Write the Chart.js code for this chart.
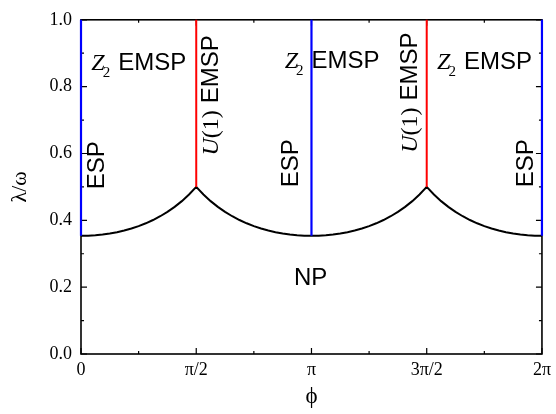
<!DOCTYPE html>
<html>
<head>
<meta charset="utf-8">
<script src="https://cdn.jsdelivr.net/npm/chart.js@4.4.1/dist/chart.umd.min.js"></script>
<style>
  html, body { margin: 0; padding: 0; background: #fff; }
  canvas { display: block; }
</style>
</head>
<body>
<canvas id="phaseChart" width="556" height="414"></canvas>
<script>
// phase angle phi, in units of pi
const phi = [
  0, 0.03125, 0.0625, 0.09375, 0.125, 0.15625, 0.1875, 0.21875,
  0.25, 0.28125, 0.3125, 0.34375, 0.375, 0.40625, 0.4375, 0.46875,
  0.5, 0.53125, 0.5625, 0.59375, 0.625, 0.65625, 0.6875, 0.71875,
  0.75, 0.78125, 0.8125, 0.84375, 0.875, 0.90625, 0.9375, 0.96875,
  1, 1.03125, 1.0625, 1.09375, 1.125, 1.15625, 1.1875, 1.21875,
  1.25, 1.28125, 1.3125, 1.34375, 1.375, 1.40625, 1.4375, 1.46875,
  1.5, 1.53125, 1.5625, 1.59375, 1.625, 1.65625, 1.6875, 1.71875,
  1.75, 1.78125, 1.8125, 1.84375, 1.875, 1.90625, 1.9375, 1.96875,
  2
];
// critical lambda/omega separating NP from the superradiant phases
const lambdaCrit = [
  0.3536, 0.3540, 0.3553, 0.3574, 0.3605, 0.3645, 0.3695, 0.3755,
  0.3827, 0.3911, 0.4009, 0.4122, 0.4252, 0.4402, 0.4574, 0.4772,
  0.5000, 0.4772, 0.4574, 0.4402, 0.4252, 0.4122, 0.4009, 0.3911,
  0.3827, 0.3755, 0.3695, 0.3645, 0.3605, 0.3574, 0.3553, 0.3540,
  0.3536, 0.3540, 0.3553, 0.3574, 0.3605, 0.3645, 0.3695, 0.3755,
  0.3827, 0.3911, 0.4009, 0.4122, 0.4252, 0.4402, 0.4574, 0.4772,
  0.5000, 0.4772, 0.4574, 0.4402, 0.4252, 0.4122, 0.4009, 0.3911,
  0.3827, 0.3755, 0.3695, 0.3645, 0.3605, 0.3574, 0.3553, 0.3540,
  0.3536
];
// ESP lines (blue) and U(1) EMSP lines (red): phi and lower end
const espPhi = [0, 1, 2];
const espLambda = [0.3536, 0.3536, 0.3536];
const u1Phi = [0.5, 1.5];
const u1Lambda = [0.5, 0.5];
const lambdaTop = 1.0;

const xTicks = [0, 0.25, 0.5, 0.75, 1, 1.25, 1.5, 1.75, 2];
const xTickLabels = ['0', '', 'π/2', '', 'π', '', '3π/2', '', '2π'];
const yTicks = [0, 0.1, 0.2, 0.3, 0.4, 0.5, 0.6, 0.7, 0.8, 0.9, 1.0];
const yTickLabels = ['0.0', '', '0.2', '', '0.4', '', '0.6', '', '0.8', '', '1.0'];

const SERIF = '"Liberation Serif", "Times New Roman", serif';
const SANS = '"Liberation Sans", Arial, sans-serif';

function verticalSegments(xs, lows) {
  const pts = [];
  xs.forEach((x, i) => {
    pts.push({ x: x, y: lows[i] });
    pts.push({ x: x, y: lambdaTop });
    pts.push({ x: x, y: null });
  });
  return pts;
}

// frame plus inward major/minor ticks on all four sides
const frameTicks = {
  id: 'frameTicks',
  beforeDatasetsDraw(chart) {
    const { ctx, chartArea: a, scales: { x, y } } = chart;
    ctx.save();
    ctx.strokeStyle = '#000';
    ctx.lineWidth = 1.6;
    ctx.strokeRect(a.left, a.top, a.right - a.left, a.bottom - a.top);
    ctx.lineWidth = 1.2;
    ctx.beginPath();
    xTicks.forEach((v, i) => {
      const px = x.getPixelForValue(v);
      const len = xTickLabels[i] ? 6 : 3;
      ctx.moveTo(px, a.bottom); ctx.lineTo(px, a.bottom - len);
      ctx.moveTo(px, a.top); ctx.lineTo(px, a.top + len);
    });
    yTicks.forEach((v, i) => {
      const py = y.getPixelForValue(v);
      const len = yTickLabels[i] ? 6 : 3;
      ctx.moveTo(a.left, py); ctx.lineTo(a.left + len, py);
      ctx.moveTo(a.right, py); ctx.lineTo(a.right - len, py);
    });
    ctx.stroke();
    ctx.restore();
  }
};

// draw a run of differently styled text pieces along one baseline
function drawPieces(ctx, pieces, x0, baseline) {
  let cx = x0;
  pieces.forEach(p => {
    ctx.font = p.font;
    ctx.fillText(p.text, cx + (p.dx || 0), baseline + (p.dy || 0));
    cx += ctx.measureText(p.text).width + (p.dx || 0) + (p.gap || 0);
  });
  return cx - x0;
}

function measurePieces(ctx, pieces) {
  let w = 0;
  pieces.forEach(p => {
    ctx.font = p.font;
    w += ctx.measureText(p.text).width + (p.dx || 0) + (p.gap || 0);
  });
  return w;
}

const z2Pieces = [
  { text: 'Z', font: 'italic 24px ' + SERIF },
  { text: '2', font: '15px ' + SERIF, dx: -2, dy: 7, gap: 8 },
  { text: 'EMSP', font: '24px ' + SANS }
];
const u1Pieces = [
  { text: 'U', font: 'italic 24px ' + SERIF },
  { text: '(1)', font: '24px ' + SERIF, gap: 7 },
  { text: 'EMSP', font: '24px ' + SANS }
];

// region names, anchored in data coordinates
const regionLabels = {
  id: 'regionLabels',
  afterDatasetsDraw(chart) {
    const { ctx, scales: { x, y } } = chart;
    ctx.save();
    ctx.fillStyle = '#000';
    ctx.textBaseline = 'alphabetic';
    ctx.textAlign = 'left';

    [[0.045, 0.851], [0.884, 0.855], [1.545, 0.853]].forEach(([px, py]) => {
      drawPieces(ctx, z2Pieces, x.getPixelForValue(px), y.getPixelForValue(py));
    });

    [[0.558, 0.774], [1.424, 0.782]].forEach(([px, py]) => {
      ctx.save();
      ctx.translate(x.getPixelForValue(px) + 8, y.getPixelForValue(py));
      ctx.rotate(-Math.PI / 2);
      const w = measurePieces(ctx, u1Pieces);
      drawPieces(ctx, u1Pieces, -w / 2, 0);
      ctx.restore();
    });

    ctx.font = '24px ' + SANS;
    ctx.textAlign = 'center';
    ctx.textBaseline = 'middle';
    [[0.069, 0.565], [0.913, 0.571], [1.931, 0.571]].forEach(([px, py]) => {
      ctx.save();
      ctx.translate(x.getPixelForValue(px), y.getPixelForValue(py));
      ctx.rotate(-Math.PI / 2);
      ctx.fillText('ESP', 0, 0);
      ctx.restore();
    });

    ctx.font = '24px ' + SANS;
    ctx.fillText('NP', x.getPixelForValue(0.996), y.getPixelForValue(0.226));
    ctx.restore();
  }
};

new Chart(document.getElementById('phaseChart'), {
  type: 'line',
  data: {
    datasets: [
      {
        label: 'U(1) EMSP',
        data: verticalSegments(u1Phi, u1Lambda),
        borderColor: 'rgb(255, 0, 0)',
        borderWidth: 2,
        pointRadius: 0,
        spanGaps: false,
        clip: 4
      },
      {
        label: 'ESP',
        data: verticalSegments(espPhi, espLambda),
        borderColor: 'rgb(0, 0, 255)',
        borderWidth: 2.2,
        pointRadius: 0,
        spanGaps: false,
        clip: 4
      },
      {
        label: 'NP boundary',
        data: phi.map((p, i) => ({ x: p, y: lambdaCrit[i] })),
        borderColor: '#000',
        borderWidth: 2,
        pointRadius: 0,
        tension: 0,
        clip: 4
      }
    ]
  },
  options: {
    responsive: false,
    animation: false,
    layout: { padding: { top: 14, right: 13, left: 0, bottom: 0 } },
    plugins: {
      legend: { display: false },
      tooltip: { enabled: false }
    },
    scales: {
      x: {
        type: 'linear',
        min: 0,
        max: 2,
        afterBuildTicks: s => { s.ticks = xTicks.map(v => ({ value: v })); },
        afterFit: s => { s.height = 60; },
        grid: { display: false, drawTicks: false },
        border: { display: false },
        ticks: {
          autoSkip: false,
          maxRotation: 0,
          padding: 5,
          color: '#000',
          font: { family: SERIF, size: 18 },
          callback: (v, i) => xTickLabels[i]
        },
        title: {
          display: true,
          text: 'ϕ',
          color: '#000',
          font: { family: SERIF, size: 23 },
          padding: { top: 0, bottom: 3 }
        }
      },
      y: {
        min: 0,
        max: 1,
        afterBuildTicks: s => { s.ticks = yTicks.map(v => ({ value: v })); },
        afterFit: s => { s.width = 81; },
        grid: { display: false, drawTicks: false },
        border: { display: false },
        ticks: {
          autoSkip: false,
          padding: 9,
          color: '#000',
          font: { family: SERIF, size: 18 },
          callback: (v, i) => yTickLabels[i]
        },
        title: {
          display: true,
          text: 'λ/ω',
          color: '#000',
          font: { family: SERIF, size: 22 },
          padding: { top: 7, bottom: 0 }
        }
      }
    }
  },
  plugins: [frameTicks, regionLabels]
});
</script>
</body>
</html>
